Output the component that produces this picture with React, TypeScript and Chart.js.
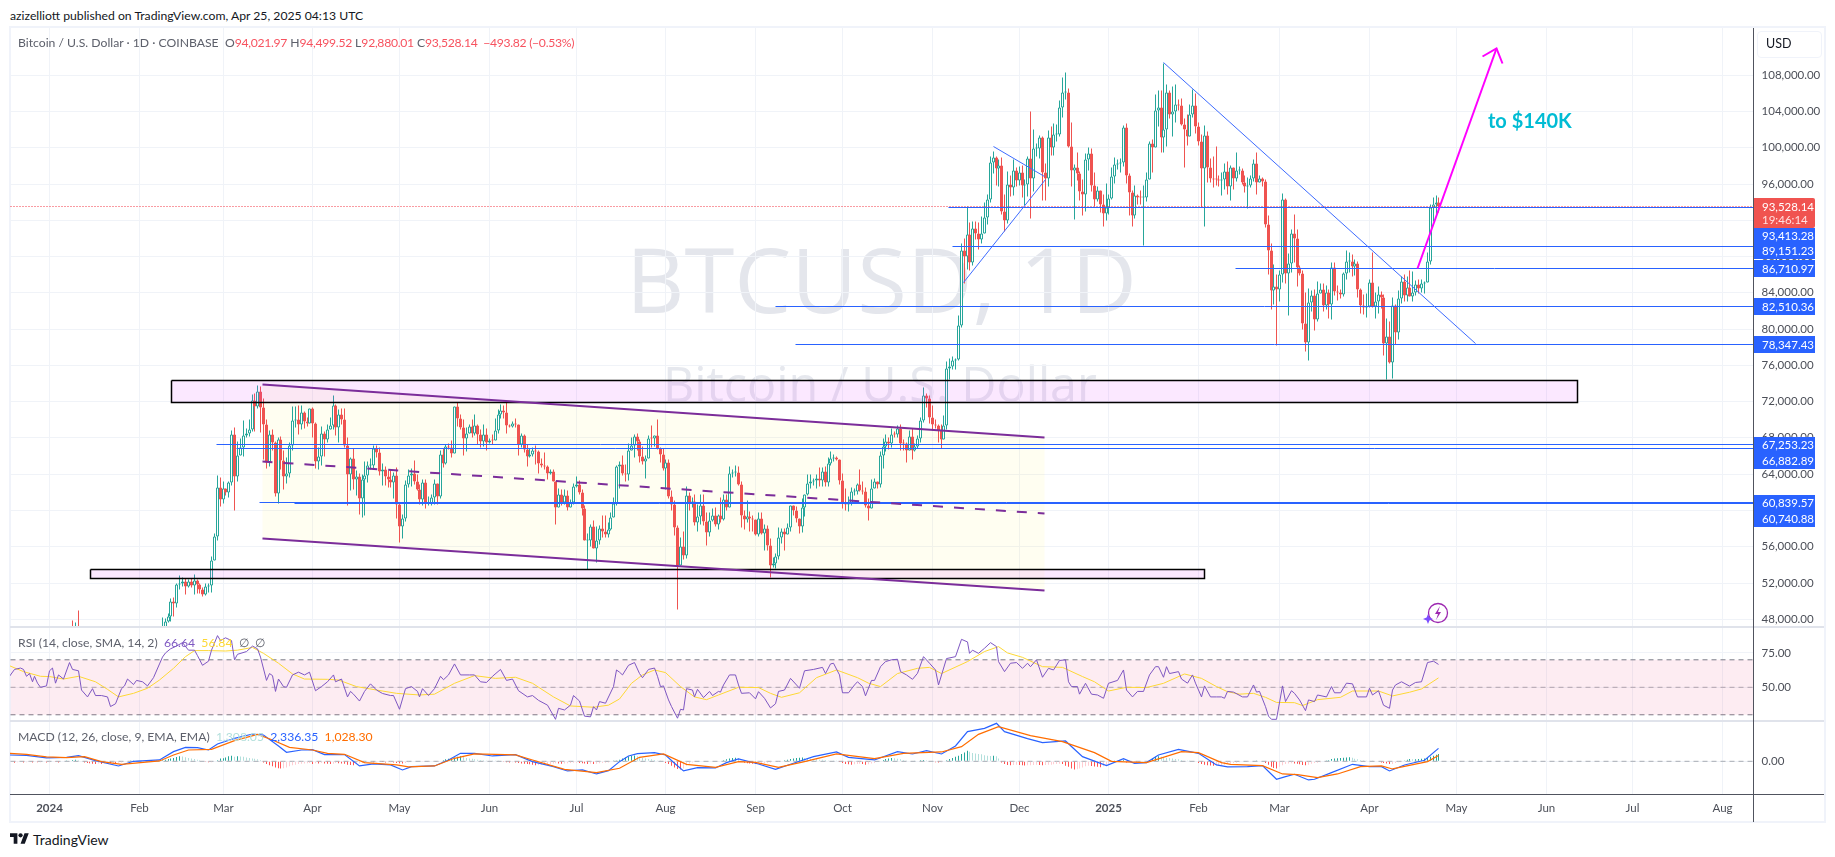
import { useEffect, useRef } from 'react'
import { Chart, registerables } from 'chart.js'

Chart.register(...registerables)

const uiFont = 'Lato, Roboto, sans-serif'
const axisText = '#4c4f58'
const gridColor = '#f0f3f8'
const up = '#26a69a'
const down = '#ef5350'
const lineBlue = '#2962ff'

// day 0 is Jan 1 2024
const monthStarts = [0, 31, 60, 91, 121, 152, 182, 213, 244, 274, 305, 335, 366, 397, 425, 456, 486, 517, 547, 578]
const monthLabels = ['2024', 'Feb', 'Mar', 'Apr', 'May', 'Jun', 'Jul', 'Aug', 'Sep', 'Oct', 'Nov', 'Dec', '2025', 'Feb', 'Mar', 'Apr', 'May', 'Jun', 'Jul', 'Aug']
const priceTicks = [108000, 104000, 100000, 96000, 92000, 88000, 84000, 80000, 76000, 72000, 68000, 64000, 60000, 56000, 52000, 48000]

const closes = [
  [44180, 44950, 42850, 44170, 44160, 43970, 43930, 46970, 46120, 46660, 46340, 42780, 42840, 41800, 42580, 43080, 42700, 41260, 41620, 41660, 41580, 39510, 39880, 40070, 39930, 41820, 42120, 42030, 43300, 42950, 42580],
  [43080, 43190, 42990, 42580, 42660, 43090, 44340, 45290, 47130, 47770, 48290, 49950, 49700, 51830, 51930, 52130, 51650, 52130, 51780, 52260, 51850, 51290, 50740, 51570, 51730, 54480, 57080, 62500, 61180],
  [62430, 62030, 63130, 68330, 63800, 66110, 66930, 68300, 68500, 68960, 72100, 71470, 73100, 71390, 69450, 65300, 68390, 67550, 61910, 67840, 65500, 63790, 64040, 67210, 69880, 69990, 69450, 70780, 69850, 69640, 71290],
  [69650, 65460, 65970, 68500, 67840, 68900, 69360, 71620, 69140, 70590, 70050, 67190, 63920, 65740, 63420, 63790, 61280, 63470, 63820, 64950, 64960, 66840, 66410, 64290, 64500, 63770, 63450, 63110, 63840, 60640],
  [58250, 59120, 62890, 63890, 64030, 63170, 62320, 61190, 63070, 60790, 60820, 61480, 62940, 61590, 66230, 65230, 67050, 66920, 66270, 71450, 70140, 69120, 67930, 68520, 69280, 68500, 69400, 68360, 67600, 68370, 67500],
  [67760, 67750, 68810, 70560, 71080, 70790, 69350, 69310, 69650, 69510, 67320, 68240, 66750, 66010, 66190, 66640, 66490, 65160, 64960, 64840, 64100, 64250, 63180, 60280, 61800, 60860, 61680, 60320, 60930, 62680],
  [62880, 62030, 60200, 56660, 56660, 58230, 55850, 56710, 58030, 57720, 57340, 57890, 59230, 60790, 64870, 65090, 64110, 63970, 66660, 67150, 68160, 67570, 65930, 65370, 65780, 67910, 67900, 68240, 66810, 66190, 64630],
  [65350, 61500, 60700, 58160, 53990, 56030, 55030, 61710, 60880, 60940, 58710, 59350, 60600, 58740, 57560, 58870, 59480, 58450, 59490, 59010, 61160, 60380, 64060, 64170, 64240, 62880, 59500, 59030, 59370, 59120, 58970],
  [57300, 59130, 57480, 57970, 56160, 53950, 54160, 54880, 57050, 57650, 57340, 58130, 60540, 60000, 59130, 58210, 60310, 61760, 62950, 63200, 63350, 63580, 63340, 64260, 63140, 65180, 65780, 65880, 65610, 63330],
  [60810, 60640, 60750, 62080, 62080, 62820, 62220, 62130, 60580, 60270, 62450, 63200, 62850, 66050, 67040, 67620, 67370, 68390, 68360, 69000, 67370, 67360, 66640, 68160, 66600, 67010, 67940, 69900, 72720, 72330, 70250],
  [69480, 69340, 68770, 67800, 69360, 75640, 75900, 76530, 76670, 80370, 88700, 88000, 90490, 87380, 91050, 90600, 89850, 90510, 92310, 94290, 98370, 98920, 97700, 98000, 93010, 91960, 95950, 95650, 97460, 96400],
  [97290, 95860, 95990, 98770, 96600, 99920, 99920, 101120, 97310, 96600, 101160, 100000, 101420, 101420, 104480, 106060, 106140, 100200, 97460, 97780, 97220, 95190, 94880, 98680, 99420, 95800, 94280, 95280, 93720, 92760, 93390],
  [94420, 96880, 98110, 98230, 98340, 102240, 96950, 95060, 92560, 94700, 94560, 94500, 94500, 96540, 100500, 99990, 104080, 104460, 101190, 102000, 106150, 103650, 103960, 104820, 104700, 102600, 102060, 101300, 103700, 104700, 102400],
  [100650, 97700, 101400, 97800, 96600, 96550, 96500, 96450, 96500, 97400, 95750, 97850, 96600, 97500, 97550, 96150, 95750, 95800, 96600, 98300, 96150, 96600, 96250, 91550, 88700, 84250, 84700, 84350],
  [86050, 94250, 86150, 87250, 90600, 90000, 86750, 86150, 80600, 78550, 82900, 83700, 81050, 83950, 84350, 82600, 84050, 82700, 86800, 84200, 84050, 83800, 86100, 87500, 87500, 86900, 87200, 84350, 82650, 82400, 82550],
  [85150, 82500, 83100, 83850, 83500, 78400, 79150, 76300, 82600, 79600, 83400, 85250, 83700, 84550, 83650, 84000, 84900, 84450, 85050, 85100, 87500, 93450, 93700, 94021.97, 93528.14],
]

const highs = [
  [44200, 45900, 45500, 44800, 44400, 44200, 44500, 47200, 47900, 47700, 49000, 46500, 43200, 43100, 43400, 43600, 43500, 42900, 42200, 41900, 41900, 41700, 40500, 40500, 40300, 42200, 42200, 42800, 43300, 43800, 43700],
  [43800, 43400, 43400, 43100, 43500, 43400, 44500, 45600, 48200, 48100, 48600, 50300, 50400, 52000, 52800, 52600, 52500, 52400, 52500, 52900, 52400, 52000, 51500, 51900, 52000, 54900, 57500, 63900, 63600],
  [63200, 62400, 63200, 68800, 69200, 67600, 67900, 69900, 69000, 70000, 72800, 72900, 73800, 73650, 72400, 70000, 68800, 68900, 67600, 68000, 68200, 66600, 65900, 67500, 71500, 71500, 71600, 71600, 70900, 70300, 71300],
  [71400, 69700, 66900, 69300, 68700, 69500, 70300, 72700, 71700, 71100, 71300, 71200, 68000, 65800, 66800, 64400, 64100, 64000, 65400, 65400, 65700, 67200, 67200, 67000, 65200, 64800, 64400, 64500, 64200, 64700],
  [60800, 59600, 63300, 64500, 64600, 65500, 64000, 62900, 63400, 63400, 61500, 61800, 63400, 63000, 66600, 66800, 67300, 67400, 67700, 71500, 71900, 70600, 70000, 69200, 69500, 70000, 70600, 69500, 68900, 69500, 69000],
  [67900, 68400, 70200, 71100, 71700, 71600, 71900, 69500, 69800, 70100, 69500, 68500, 68400, 67300, 66800, 66900, 67200, 66600, 65700, 66400, 65000, 64500, 64500, 62300, 62400, 62300, 62300, 62200, 61200, 63000],
  [63800, 63300, 62300, 60500, 57500, 58500, 58900, 58200, 58300, 59400, 59400, 58700, 59800, 61400, 65000, 65400, 66100, 65100, 67400, 68000, 68400, 68500, 67800, 67100, 66100, 68300, 69400, 68300, 70000, 67000, 66800],
  [65600, 65600, 62200, 61100, 58300, 57000, 57700, 62700, 62000, 61400, 61800, 60700, 61800, 61800, 59800, 59800, 60200, 60300, 59600, 61400, 61800, 61800, 64900, 64500, 65000, 64800, 63200, 60000, 61100, 59900, 59400],
  [59000, 59800, 59800, 58500, 58300, 56900, 54800, 55300, 58100, 58000, 58000, 58600, 60600, 60600, 60400, 59100, 61300, 61800, 64000, 64000, 63500, 64000, 64700, 64700, 64800, 65800, 66500, 66200, 66000, 65600],
  [64100, 62400, 61500, 62500, 62400, 63000, 64500, 63200, 62500, 61300, 63400, 63500, 63200, 66500, 67900, 68400, 68000, 69000, 68700, 69400, 69500, 67800, 67500, 68800, 69000, 67400, 68300, 70300, 73600, 72900, 72700],
  [71600, 70000, 69500, 69500, 70500, 76400, 76800, 77000, 76800, 81500, 89500, 90000, 93500, 91800, 91900, 91900, 91800, 92400, 94000, 94900, 99000, 99600, 99000, 98700, 98900, 94800, 97400, 97000, 98700, 97800],
  [97900, 98000, 96500, 99000, 104000, 102000, 100500, 101400, 101200, 98300, 101900, 102400, 102700, 102600, 105200, 107800, 108300, 106500, 102800, 98200, 99500, 97400, 96500, 99400, 100000, 99900, 97300, 95700, 95200, 94900, 96100],
  [94900, 97800, 98900, 98700, 98800, 102500, 102700, 97200, 95300, 95800, 94900, 95300, 95800, 97300, 100700, 100900, 105900, 106300, 106300, 109300, 107000, 106300, 106800, 107000, 105300, 105400, 103200, 103700, 104800, 106400, 106000],
  [102800, 101500, 102500, 101800, 98800, 99000, 100100, 96900, 97300, 98300, 98500, 98100, 97300, 99500, 97900, 97700, 97000, 96700, 97000, 98700, 99500, 96900, 96700, 96500, 92500, 89400, 87100, 86000],
  [86500, 95000, 94400, 88300, 91000, 92700, 91000, 87000, 86500, 84000, 84500, 84300, 84400, 85300, 85000, 85000, 84800, 84400, 87400, 87400, 84800, 84400, 86300, 88700, 88500, 88200, 87700, 87500, 84500, 83800, 83900],
  [85500, 88500, 84000, 84700, 84200, 83800, 81200, 80900, 83500, 82700, 84300, 85800, 86000, 85800, 86500, 86400, 85400, 85500, 85500, 85300, 88500, 93800, 94500, 94700, 94499.52],
]

const lows = [
  [42300, 44200, 40800, 42650, 43400, 43400, 43600, 43200, 45300, 44300, 45600, 41700, 42500, 41700, 41800, 42100, 42200, 40700, 40300, 41500, 41500, 39400, 38500, 39500, 39500, 39800, 41400, 41600, 41900, 42700, 42300],
  [42500, 42600, 42900, 42200, 42500, 42600, 42800, 44300, 45300, 46800, 47700, 47800, 48300, 49300, 51300, 51600, 50700, 51500, 51500, 50700, 50900, 50900, 50500, 50600, 51000, 51000, 54500, 56700, 60400],
  [60800, 61700, 61400, 62800, 60000, 63200, 66200, 66000, 68000, 68200, 68700, 68700, 71300, 68600, 65600, 64600, 64900, 66600, 61600, 60800, 64500, 62300, 63000, 63600, 66600, 69200, 68400, 68900, 69000, 69300, 69600],
  [68100, 64600, 64500, 65000, 66000, 67500, 69000, 68900, 68300, 67500, 69500, 66900, 60500, 62200, 62300, 61700, 59600, 59200, 59500, 63100, 64500, 64500, 65800, 63900, 62800, 62800, 62500, 62500, 61300, 59100],
  [56500, 56900, 58800, 62500, 62600, 62900, 62200, 60700, 60600, 60200, 60500, 60600, 60700, 60700, 61300, 64700, 65100, 66700, 65900, 66300, 69300, 68900, 66100, 66500, 68500, 68000, 68300, 67300, 67000, 67100, 66600],
  [67400, 67300, 67700, 68500, 70200, 70100, 68500, 69200, 69200, 69200, 66100, 66900, 66400, 64900, 65900, 66000, 65100, 64100, 64700, 64500, 63400, 64000, 63200, 58500, 60700, 60600, 60700, 60000, 60500, 60700],
  [62500, 61800, 59500, 56800, 53500, 56000, 55800, 54300, 56300, 57000, 57000, 57000, 57800, 59500, 60600, 62400, 63900, 63200, 63300, 66700, 65800, 66600, 65300, 65100, 63500, 65700, 66900, 67100, 66700, 65300, 64400],
  [62300, 61300, 60000, 57200, 49137, 53900, 54600, 54700, 60000, 60300, 58400, 57700, 58500, 58400, 56100, 57100, 58800, 58200, 57900, 58700, 58900, 60000, 60300, 63600, 63700, 62800, 58100, 57900, 58700, 57700, 57700],
  [57200, 57100, 57400, 55600, 55600, 52600, 53700, 53600, 54600, 56400, 55600, 57300, 57700, 59500, 58700, 57500, 57600, 59300, 61700, 62400, 62800, 62400, 62700, 62700, 62700, 62700, 65000, 65400, 65500, 62900],
  [60200, 60000, 59900, 60500, 61700, 61800, 62100, 61800, 60300, 58900, 60200, 62500, 62400, 62500, 64600, 66500, 66700, 67000, 68100, 68100, 66600, 66600, 65300, 66600, 65600, 66500, 66800, 67500, 69700, 71400, 69600],
  [68800, 69000, 67500, 66800, 67800, 68900, 74400, 75500, 75600, 76500, 80200, 85000, 86600, 86500, 87000, 89900, 88800, 89400, 90800, 91500, 94000, 97200, 95800, 95700, 92600, 90800, 91700, 94600, 94700, 95700],
  [95800, 94500, 93600, 94600, 92230, 95200, 99000, 98800, 94200, 94200, 95700, 99200, 99200, 100700, 101200, 103300, 105300, 100000, 95700, 92100, 96400, 94200, 92500, 93000, 97500, 95200, 93500, 94100, 92900, 91300, 92000],
  [92600, 94300, 96100, 97600, 97300, 97900, 96100, 92500, 91300, 92200, 93800, 93700, 89200, 94100, 96500, 97300, 100300, 102300, 99500, 99500, 100100, 103200, 101200, 102800, 104100, 102500, 97800, 100300, 101300, 103300, 101600],
  [100300, 93400, 91300, 96200, 96200, 95600, 95900, 95700, 94700, 95400, 94900, 94200, 95400, 96300, 97100, 96000, 95100, 93300, 95600, 96300, 94800, 96300, 95700, 91200, 86000, 82200, 82700, 78200],
  [83000, 85100, 85000, 81500, 86300, 87400, 84700, 85900, 80000, 77500, 76600, 82000, 79900, 80800, 83900, 81900, 82200, 81200, 81100, 83700, 83200, 83400, 83600, 85500, 86300, 85800, 85900, 83500, 81700, 81600, 81300],
  [82400, 82400, 81200, 81700, 82300, 77100, 74434, 76200, 74600, 78300, 78900, 82800, 83000, 83100, 83600, 83100, 83700, 83900, 84000, 83900, 85100, 87100, 91900, 92500, 92880.01],
]

// [day, value]
const rsiLine = [
  [-14, 57], [-12, 63], [-10, 64], [-9, 63], [-8, 58], [-7, 60], [-6, 54], [-5, 58], [-4, 53], [-3, 50], [-1, 51], [0, 62], [1, 64], [2, 53], [3, 59], [5, 56], [7, 68], [8, 63], [10, 62], [11, 48],
  [13, 43], [15, 49], [16, 44], [18, 44], [20, 43], [21, 36], [23, 38], [25, 49], [26, 51], [27, 56], [29, 52], [30, 55], [32, 54], [34, 51], [36, 57], [38, 67], [39, 72], [40, 75], [42, 78], [44, 80],
  [46, 82.5], [48, 77], [50, 77], [51, 73], [53, 66], [55, 69], [56, 77], [58, 87.6], [59, 84], [61, 86], [63, 84], [64, 70], [65, 74], [68, 76], [70, 80], [72, 78], [73, 72], [75, 55], [76, 60], [77, 58.5],
  [78, 47], [79, 56], [81, 50.5], [82, 50], [84, 59], [86, 61], [88, 59], [90, 61], [92, 47.5], [94, 50.5], [96, 54], [98, 59], [99, 54], [101, 56], [103, 43], [104, 47], [105, 45], [107, 40], [109, 47], [111, 52.5],
  [113, 48], [115, 45.5], [118, 44], [119, 44], [121, 34], [123, 49], [125, 50.5], [127, 47], [128, 43], [129, 49], [131, 44], [133, 49], [135, 58], [136, 55.5], [138, 59], [140, 67], [142, 59], [145, 59], [147, 59], [149, 54],
  [151, 53.5], [153, 58], [156, 63], [158, 55], [160, 56], [162, 47.5], [165, 43], [167, 44], [169, 40.5], [172, 37], [175, 26.7], [176, 34.7], [178, 33.5], [180, 37], [181, 44], [183, 40], [185, 29], [187, 28.5], [188, 35.9], [189, 33.5],
  [190, 39.6], [192, 38.4], [195, 50.5], [196, 62.6], [197, 61], [198, 59], [200, 66], [202, 68], [204, 60], [205, 57], [207, 63], [209, 64], [210, 58], [211, 50.5], [212, 51], [214, 40.8], [215, 36], [217, 27.5], [218, 34], [219, 33.5],
  [220, 49], [222, 48], [223, 43], [224, 48.5], [226, 42.5], [228, 47], [229, 44], [231, 47], [232, 46.5], [233, 51.7], [235, 59], [237, 59], [238, 51.7], [239, 45.6], [242, 46], [244, 41.6], [245, 46.8], [247, 42], [249, 35], [251, 38],
  [252, 47], [254, 48], [256, 56.5], [259, 49.3], [261, 62], [264, 63], [267, 64.5], [268, 60], [270, 67], [271, 67.5], [273, 59], [274, 46], [276, 46], [278, 51.7], [279, 54], [281, 50.5], [282, 43.8], [284, 55], [285, 55], [287, 65],
  [289, 68.7], [291, 70], [293, 70.4], [294, 61.4], [296, 59], [298, 55.8], [300, 60.2], [302, 72.3], [304, 67.5], [306, 62.6], [307, 51.7], [310, 70.9], [313, 72.3], [315, 84.9], [317, 83], [318, 74.7], [319, 77], [321, 74.7], [323, 78.4], [325, 82.5],
  [327, 79.6], [328, 68.7], [330, 61.4], [332, 67.5], [334, 68], [336, 63.8], [338, 67.5], [339, 65], [341, 70], [343, 57.3], [345, 63.8], [347, 62.6], [349, 69.5], [351, 70], [352, 54], [353, 50.5], [355, 50.5], [356, 45], [358, 52.9], [360, 45],
  [362, 44.4], [364, 42], [366, 52.9], [369, 55], [371, 62.6], [372, 48], [374, 43], [376, 47], [378, 47], [380, 59], [382, 65], [383, 65], [385, 57.3], [386, 65], [387, 60], [390, 61.4], [391, 56], [393, 53], [395, 59], [396, 53],
  [398, 43], [399, 51], [401, 43], [403, 43], [405, 43], [406, 42], [407, 47], [409, 46.5], [412, 43], [414, 43], [416, 51.7], [417, 46.5], [418, 47], [420, 35.9], [421, 29], [422, 26.7], [424, 26.7], [426, 51], [427, 39.6], [429, 47.5],
  [430, 45.6], [432, 40.8], [434, 33], [435, 40.8], [437, 39.6], [438, 44.4], [441, 43], [443, 50.5], [444, 46], [446, 46], [448, 53], [450, 52.5], [452, 43], [455, 43], [456, 49.3], [457, 44.4], [459, 47.5], [461, 37], [463, 34.7], [464, 48],
  [465, 51.7], [467, 54], [470, 50.9], [472, 53.5], [474, 54], [476, 68], [478, 69], [480, 66.64],
]

const rsiAverage = [
  [-14, 66], [-9, 61.4], [-3, 58], [0, 57.8], [5, 56], [10, 58], [16, 54], [20, 48.5], [24, 43], [29, 45.6], [34, 49.3], [38, 55.3], [43, 63.8], [47, 72.3], [50, 76.7], [55, 76.7], [61, 76.4], [65, 77], [70, 79], [74, 74.7],
  [79, 67.5], [84, 59.7], [88, 56], [96, 55.8], [100, 55.3], [106, 50.5], [113, 48], [120, 45.6], [128, 44.4], [133, 45], [140, 52.9], [147, 58.5], [154, 56.5], [161, 57.3], [167, 52.9], [174, 43], [180, 36.4], [188, 35.5], [193, 37], [197, 41.5],
  [201, 52.9], [205, 59], [209, 62.6], [213, 60.7], [218, 50.5], [223, 43], [227, 41], [231, 44.4], [238, 50], [245, 49.8], [249, 45.6], [253, 42.7], [259, 46], [265, 57], [272, 62.6], [279, 57], [283, 53], [287, 50.5], [293, 60], [300, 63.8],
  [304, 64.5], [308, 60], [317, 68.7], [323, 76], [328, 79.6], [331, 75], [336, 71.8], [343, 65], [350, 64.5], [357, 57.8], [361, 54], [366, 47.3], [372, 50], [379, 49.8], [385, 52.9], [392, 59.7], [398, 56.5], [403, 50.5], [407, 46.8], [411, 45],
  [416, 45.6], [420, 42.7], [424, 39], [430, 38.8], [433, 36.7], [438, 41], [446, 42.7], [450, 47.3], [459, 47.3], [464, 43.7], [470, 46.4], [474, 48.8], [480, 56.84],
]

const macdLine = [
  [-14, 1140], [-8, 1080], [-1, 600], [6, 720], [10, 1020], [16, 120], [24, -840], [29, 0], [38, 240], [43, 1740], [47, 2520], [51, 2460], [55, 2040], [58, 3120], [64, 4140], [70, 4920], [74, 4740], [79, 2760], [82, 1620], [87, 2040],
  [91, 2100], [95, 1200], [102, 1200], [107, -840], [112, -480], [118, -660], [122, -1560], [125, -960], [133, -840], [138, 240], [142, 1440], [147, 1440], [153, 960], [161, 1200], [167, -60], [174, -960], [179, -1740], [184, -1560], [189, -2280], [193, -1680],
  [197, -60], [200, 960], [203, 1380], [209, 1560], [213, 1140], [216, -360], [219, -1740], [224, -1140], [230, -1200], [234, -240], [238, 420], [245, -480], [251, -1440], [256, -540], [264, 840], [272, 1680], [276, 720], [285, 240], [293, 1740], [298, 1320],
  [303, 1920], [308, 1320], [313, 2760], [317, 5340], [323, 5940], [327, 6840], [330, 5340], [338, 4080], [343, 3360], [351, 3660], [357, 840], [365, -780], [371, 480], [375, -360], [379, -240], [383, 1140], [390, 2160], [397, 1440], [403, -660], [407, -1020],
  [414, -960], [419, -780], [424, -3240], [427, -2760], [430, -2340], [435, -3360], [437, -3240], [443, -2040], [450, -540], [456, -960], [460, -960], [463, -1740], [468, -660], [475, 180], [480, 2336.35],
]

const macdSignal = [
  [-14, 1440], [-8, 1260], [-1, 780], [6, 660], [12, 840], [18, -60], [25, -540], [38, 60], [43, 1140], [48, 2040], [56, 2160], [64, 3720], [72, 4860], [77, 3840], [83, 2520], [91, 2040], [96, 1440], [102, 1260], [109, -240], [120, -660],
  [124, -1020], [133, -840], [140, 540], [147, 1320], [161, 1140], [167, 240], [178, -1440], [189, -2040], [197, -1260], [204, 720], [212, 1320], [220, -540], [230, -1080], [238, -60], [244, -180], [252, -1080], [261, -60], [272, 1320], [285, 480], [295, 1440],
  [308, 1680], [315, 2640], [321, 4860], [328, 6240], [339, 4620], [350, 3540], [361, 1560], [367, 0], [379, -240], [391, 1740], [397, 1560], [405, -240], [408, -540], [419, -780], [426, -2280], [431, -2400], [438, -2940], [445, -2280], [453, -960], [460, -840],
  [464, -1380], [476, -60], [480, 1028.3],
]

// histogram per month, the first row holds the last 14 days of Dec 2023
const macdHistogram = [
  [-200, -100, -240, -150, -100, -200, -150, -120, -200, -100, -180, -150, -100, -200],
  [-150, -100, -120, -200, -80, -100, 60, 120, 220, 260, 200, -100, -200, -300, -350, -420, -480, -400, -500, -380, -300, -350, -300, -420, -260, -200, -100, -80, 40, 60, 80],
  [100, 120, 100, 150, 180, 120, 150, 100, 200, 300, 420, 500, 600, 780, 900, 880, 750, 600, 520, 400, 300, 180, -60, -120, -180, -150, -60, 200, 500],
  [550, 700, 900, 1000, 800, 900, 850, 800, 700, 600, 500, 450, 350, 250, -200, -500, -700, -900, -1100, -1250, -1300, -1250, -1100, -900, -700, -600, -500, -450, -400, -350, -300],
  [-500, -350, -400, -300, -400, -450, -500, -420, -300, -350, -400, -450, -600, -650, -700, -500, -400, -300, -200, -150, -100, -150, -150, -100, -120, -200, -180, -150, -200, -300],
  [-350, -400, -300, -150, -60, -80, -100, -60, -40, -60, -50, -60, -40, -40, 100, 200, 350, 450, 550, 700, 800, 900, 850, 600, 500, 450, 350, 300, 250, 200, 150],
  [80, 60, 50, 40, -100, -120, -150, -200, -180, -220, -300, -400, -450, -500, -550, -600, -700, -650, -600, -550, -500, -480, -400, -350, -400, -420, -380, -350, -300, -280],
  [-250, -300, -350, -400, -500, -420, -500, -450, -350, -300, -250, -200, -100, 40, 150, 300, 500, 700, 850, 1000, 1050, 900, 700, 600, 500, 400, 350, 250, 150, 50, -100],
  [-300, -500, -800, -1100, -1400, -1500, -1300, -800, -400, -200, -120, -100, -80, -60, -80, -100, -60, -100, -40, 100, 200, 350, 500, 600, 650, 550, -100, -250, -350, -400, -450],
  [-500, -480, -420, -300, -250, -200, -100, -60, -40, 100, 200, 300, 400, 500, 600, 650, 700, 600, 520, 450, 400, 350, 300, 260, 220, 150, 100, 60, 40, -40],
  [-300, -500, -550, -600, -550, -500, -450, -480, -600, -550, -400, -300, -100, 100, 250, 400, 500, 600, 550, 450, 350, 250, 150, 100, 80, 60, 120, 200, 250, 200, 100],
  [-100, -180, -200, -150, -60, 200, 400, 600, 800, 1000, 1300, 1600, 1900, 1700, 1500, 1400, 1300, 1250, 1100, 1000, 950, 1000, 900, 500, -200, -500, -650, -700, -650, -600],
  [-650, -700, -750, -700, -700, -650, -600, -650, -700, -650, -600, -600, -550, -500, -450, -500, -800, -1000, -1300, -1500, -1450, -1300, -1100, -900, -800, -850, -950, -1000, -1050, -900, -800],
  [-500, -100, 60, 100, 150, 300, -200, -60, -100, -120, -120, -100, -100, -80, 200, 500, 800, 900, 800, 700, 650, 600, 500, 400, 350, 250, 120, 50, 40, -60, -100],
  [-300, -500, -600, -700, -750, -780, -720, -680, -650, -600, -500, -400, -300, -250, -180, -100, -60, -50, 100, 100, 150, 80, -60, -300, -600, -1000, -1200, -1300],
  [-1000, -700, -500, -400, -350, -400, -450, -550, -650, -720, -600, -450, -300, -250, -150, 100, 150, 200, 400, 500, 550, 600, 650, 700, 720, 650, 450, 350, 250, 200, 150],
  [100, 60, -60, -100, -200, -300, -400, -500, -480, -300, -150, -60, 150, 300, 400, 350, 350, 420, 450, 500, 600, 800, 1000, 1200, 1308.05],
]

// drawings on the price pane, [day, price]
const upperBox = [[42.1, 74362], [527.9, 74362], [527.9, 71935], [42.1, 71935], [42.1, 74362]]
const lowerBox = [[14.2, 53517], [399, 53517], [399, 52524], [14.2, 52524], [14.2, 53517]]
const channelTop = [[73.6, 73877], [343.9, 68075]]
const channelMiddle = [[73.6, 65384], [343.9, 59693]]
const channelBottom = [[73.6, 56892], [343.9, 51124]]
const wedgeUpper = [[326, 100125], [343.9, 96816]]
const wedgeLower = [[315.9, 85126], [344.2, 96563]]
const longTrend = [[384.9, 109467], [492.8, 78442]]
const arrowShaft = [[472.7, 86714], [499.9, 110901]]
const arrowHead = [[495.2, 110051], [499.9, 110901], [502.1, 109323]]
const lastPrice = 93528.14
const levelPrices = [93413.28, 89151.23, 86710.97, 82510.36, 78347.43, 67253.23, 66882.89, 60839.57, 60740.88]
const levelStarts = [310.7, 311.8, 409.9, 251, 257.9, 57.9, 64.8, 72.7, 84.8]

const dayMin = -13.6
const dayMax = 588.7
const priceMin = 47263
const priceMax = 113217

const toPoints = (rows: number[][]) => rows.map(([x, y]) => ({ x, y }))

const line = (rows: number[][], color: string, width: number, order: number, extra: object = {}) => ({
  type: 'line',
  data: toPoints(rows),
  borderColor: color,
  borderWidth: width,
  pointRadius: 0,
  fill: false,
  tension: 0,
  order,
  ...extra,
})

const snapScale = (scale: any) => {
  if (scale.__snapped) return
  const original = scale.getPixelForValue.bind(scale)
  scale.getPixelForValue = (v: number, i?: number) => Math.floor(original(v, i)) + 0.5
  scale.__snapped = true
}

// daily bars are snapped to whole pixels so wicks stay crisp
const snapX = {
  id: 'snapX',
  beforeDatasetsUpdate(chart: any) {
    snapScale(chart.scales.x)
  },
}

const snapXY = {
  id: 'snapXY',
  beforeDatasetsUpdate(chart: any) {
    snapScale(chart.scales.x)
    snapScale(chart.scales.y)
  },
}

const hiddenX = {
  type: 'linear',
  min: dayMin,
  max: dayMax,
  offset: false,
  afterBuildTicks: (scale: any) => {
    scale.ticks = monthStarts.map((value) => ({ value }))
  },
  ticks: { display: false, autoSkip: false },
  grid: { color: gridColor, drawTicks: false, offset: false },
  border: { display: false },
}

const yAxis = (min: number, max: number, values: number[], format: (v: number) => string) => ({
  type: 'linear',
  position: 'right',
  min,
  max,
  afterFit: (scale: any) => {
    scale.width = 72.4
    scale.paddingTop = 0
    scale.paddingBottom = 0
  },
  afterBuildTicks: (scale: any) => {
    scale.ticks = values.map((value) => ({ value }))
  },
  ticks: {
    padding: 8,
    color: axisText,
    font: { family: uiFont, size: 11.5 },
    callback: (v: number) => format(v),
  },
  grid: { color: gridColor, drawTicks: false },
  border: { display: false },
})

const twoDecimals = (v: number) => v.toLocaleString('en-US', { minimumFractionDigits: 2, maximumFractionDigits: 2 })

const baseOptions = {
  responsive: false,
  animation: false,
  events: [],
  layout: { padding: 0 },
  plugins: { legend: { display: false }, tooltip: { enabled: false } },
}

function candleDatasets() {
  const wicks: any[] = []
  const bodies: any[] = []
  const wickColors: string[] = []
  const fills: string[] = []
  const borders: string[] = []
  let previous = closes[0][0]
  closes.forEach((month, m) => {
    month.forEach((close, i) => {
      const x = monthStarts[m] + i
      const open = previous
      const rising = close >= open
      previous = close
      const top = Math.max(highs[m][i] ?? close, open, close)
      const bottom = Math.min(lows[m][i] ?? close, open, close)
      // candles wholly under the pane are left out, the axis would clamp them
      if (top < priceMin) return
      wicks.push({ x, y: [bottom, top] })
      wickColors.push(rising ? up : down)
      if (Math.max(open, close) < priceMin) return
      bodies.push({ x, y: [open, close] })
      fills.push(rising ? '#ffffff' : down)
      borders.push(rising ? up : down)
    })
  })
  const shared = { type: 'bar', grouped: false, barPercentage: 2, categoryPercentage: 1, inflateAmount: 0, borderSkipped: false }
  return [
    { ...shared, data: wicks, backgroundColor: wickColors, maxBarThickness: 1, order: 60 },
    { ...shared, data: bodies, backgroundColor: fills, borderColor: borders, borderWidth: 1, maxBarThickness: 3, minBarLength: 1, order: 59 },
  ]
}

function histogramDataset() {
  const data: any[] = []
  const colors: string[] = []
  let day = -14
  let before = 0
  macdHistogram.flat().forEach((value) => {
    data.push({ x: day, y: [0, value] })
    const rising = value >= before
    colors.push(value >= 0 ? (rising ? '#26a69a' : '#b2dfdb') : rising ? '#ffcdd2' : '#ff5252')
    before = value
    day += 1
  })
  return { type: 'bar', grouped: false, barPercentage: 2, categoryPercentage: 1, inflateAmount: 0, data, backgroundColor: colors, maxBarThickness: 1, order: 10 }
}

function priceConfig() {
  const levels = levelPrices.map((price, i) =>
    line([[levelStarts[i], price], [dayMax, price]], lineBlue, 1, 20),
  )
  return {
    type: 'line',
    data: {
      datasets: [
        line([...channelTop, ...channelBottom.slice().reverse(), channelTop[0]], 'rgba(0,0,0,0)', 0, 90, {
          fill: 'shape',
          backgroundColor: 'rgba(255,235,59,0.07)',
        }),
        line(upperBox, '#000000', 1.5, 40, { fill: 'shape', backgroundColor: 'rgba(224,64,251,0.12)' }),
        line(lowerBox, '#000000', 1.5, 40, { fill: 'shape', backgroundColor: 'rgba(224,64,251,0.12)' }),
        ...candleDatasets(),
        ...levels,
        line(channelTop, '#7b2d9a', 2, 15),
        line(channelBottom, '#7b2d9a', 2, 15),
        line(channelMiddle, '#7b2d9a', 2, 15, { borderDash: [10, 11] }),
        line(wedgeUpper, '#3d6bff', 1, 14),
        line(wedgeLower, '#3d6bff', 1, 14),
        line(longTrend, '#3d6bff', 1, 14),
        line([[dayMin, lastPrice], [dayMax, lastPrice]], '#f23645', 1, 12, { borderDash: [1, 2] }),
        line(arrowShaft, '#ff00ff', 2, 5),
        line(arrowHead, '#ff00ff', 2, 5),
      ],
    },
    options: {
      ...baseOptions,
      scales: {
        x: hiddenX,
        y: yAxis(priceMin, priceMax, priceTicks, twoDecimals),
      },
    },
    plugins: [snapXY],
  }
}

function rsiConfig() {
  const dash = { borderDash: [5, 4] }
  return {
    type: 'line',
    data: {
      datasets: [
        line([[dayMin, 70], [dayMax, 70]], '#787b86', 1, 30, { ...dash, fill: '+1', backgroundColor: 'rgba(240,70,130,0.1)' }),
        line([[dayMin, 30], [dayMax, 30]], '#787b86', 1, 30, dash),
        line([[dayMin, 50], [dayMax, 50]], 'rgba(120,123,134,0.6)', 1, 30, dash),
        line(rsiAverage, '#fdd835', 1, 6),
        line(rsiLine, '#7e57c2', 1, 5),
      ],
    },
    options: {
      ...baseOptions,
      scales: {
        x: hiddenX,
        y: yAxis(26.2, 94.6, [75, 50], twoDecimals),
      },
    },
    plugins: [snapX],
  }
}

function macdConfig() {
  return {
    type: 'line',
    data: {
      datasets: [
        line([[dayMin, 0], [dayMax, 0]], 'rgba(120,123,134,0.6)', 1, 30, { borderDash: [5, 4] }),
        histogramDataset(),
        line(macdLine, '#2962ff', 1.2, 6),
        line(macdSignal, '#ff6d00', 1.2, 5),
      ],
    },
    options: {
      ...baseOptions,
      scales: {
        x: {
          ...hiddenX,
          afterFit: (scale: any) => {
            scale.height = 28
            scale.paddingLeft = 0
            scale.paddingRight = 0
          },
          ticks: {
            display: true,
            autoSkip: false,
            maxRotation: 0,
            padding: 7,
            color: axisText,
            font: (ctx: any) => {
              const label = monthLabels[ctx.index]
              return { family: uiFont, size: 11.5, weight: label === '2024' || label === '2025' ? 'bold' : 'normal' }
            },
            callback: (_v: number, i: number) => monthLabels[i],
          },
        },
        y: yAxis(-5892, 7441, [0], twoDecimals),
      },
    },
    plugins: [snapX],
  }
}

function ChartCanvas({ top, height, build }: { top: number; height: number; build: () => any }) {
  const ref = useRef<HTMLCanvasElement>(null)
  useEffect(() => {
    if (!ref.current) return
    const chart = new Chart(ref.current, build())
    return () => chart.destroy()
  }, [build])
  return <canvas ref={ref} width={1816} height={height} style={{ position: 'absolute', left: 10, top, zIndex: 2 }} />
}

const box = (left: number, top: number, width: number, height: number, background: string, zIndex = 3) => (
  <div style={{ position: 'absolute', left, top, width, height, background, zIndex }} />
)

function Label({ left, y, children, style }: { left: number; y: number; children: any; style?: object }) {
  return (
    <div
      style={{
        position: 'absolute',
        left,
        top: y,
        transform: 'translateY(-50%)',
        whiteSpace: 'pre',
        fontFamily: uiFont,
        zIndex: 4,
        ...style,
      }}
    >
      {children}
    </div>
  )
}

const priceTags = [
  { text: '93,413.28', top: 228, height: 15 },
  { text: '89,151.23', top: 243, height: 15.5 },
  { text: '86,710.97', top: 260, height: 17 },
  { text: '82,510.36', top: 298, height: 17 },
  { text: '78,347.43', top: 336, height: 17 },
  { text: '67,253.23', top: 437, height: 16 },
  { text: '66,882.89', top: 453, height: 16 },
  { text: '60,839.57', top: 495, height: 16 },
  { text: '60,740.88', top: 511, height: 16 },
]

const quoteStyle = { color: '#f7525f', letterSpacing: -0.3 }

export default function App() {
  return (
    <div style={{ position: 'absolute', left: 0, top: 0, width: 1835, height: 857, overflow: 'hidden', background: '#fff' }}>
      {box(9, 26, 1817, 2, '#f0f3fa', 1)}
      {box(9, 26, 2, 796, '#f0f3fa', 1)}
      {box(1824, 26, 2, 796, '#f0f3fa', 1)}
      {box(9, 821, 1817, 2, '#f0f3fa', 1)}

      <Label left={10} y={15} style={{ fontSize: 12.2, color: '#131722' }}>
        azizelliott published on TradingView.com, Apr 25, 2025 04:13 UTC
      </Label>

      <div style={{ position: 'absolute', left: 626, top: 228, fontFamily: '"Open Sans", sans-serif', fontSize: 90.5, lineHeight: '100px', color: '#e4e6ec', zIndex: 1, whiteSpace: 'pre' }}>
        BTCUSD, 1D
      </div>
      <div style={{ position: 'absolute', left: 663, top: 356, fontFamily: '"Open Sans", sans-serif', fontSize: 48.5, lineHeight: '54px', color: '#e6e8ee', zIndex: 1, whiteSpace: 'pre' }}>
        Bitcoin / U.S. Dollar
      </div>

      <ChartCanvas top={28} height={598} build={priceConfig} />
      <ChartCanvas top={626} height={94} build={rsiConfig} />
      <ChartCanvas top={720} height={102} build={macdConfig} />

      {box(10, 626, 1814, 2, '#e0e3eb')}
      {box(10, 720, 1814, 2, '#e0e3eb')}
      {box(10, 794, 1814, 1, '#50535e')}
      {box(1753, 28, 1, 794, '#50535e')}

      <Label left={18} y={41.5} style={{ fontSize: 12.2, color: '#5d606b' }}>
        {'Bitcoin / U.S. Dollar · 1D · COINBASE  O'}
        <span style={quoteStyle}>94,021.97</span>
        {' H'}
        <span style={quoteStyle}>94,499.52</span>
        {' L'}
        <span style={quoteStyle}>92,880.01</span>
        {' C'}
        <span style={quoteStyle}>93,528.14</span>
        <span style={quoteStyle}>{'  −493.82 (−0.53%)'}</span>
      </Label>

      <Label left={18} y={641.5} style={{ fontSize: 12.2, color: '#5d606b' }}>
        {'RSI (14, close, SMA, 14, 2)  '}
        <span style={{ color: '#7e57c2' }}>66.64</span>
        {'  '}
        <span style={{ color: '#fdd835' }}>56.84</span>
        {'  ∅  ∅'}
      </Label>

      <Label left={18} y={736} style={{ fontSize: 12.2, color: '#5d606b' }}>
        {'MACD (12, 26, close, 9, EMA, EMA)  '}
        <span style={{ color: '#b2dfdb' }}>1,308.05</span>
        {'  '}
        <span style={{ color: '#2962ff' }}>2,336.35</span>
        {'  '}
        <span style={{ color: '#ff6d00' }}>1,028.30</span>
      </Label>

      <Label left={1488} y={120} style={{ fontSize: 20, fontWeight: 700, color: '#00bcd4' }}>
        to $140K
      </Label>

      <div style={{ position: 'absolute', left: 1757, top: 31, width: 63, height: 25, border: '1px solid #f0f3fa', borderRadius: 4, background: '#fff', zIndex: 4 }} />
      <Label left={1766} y={43} style={{ fontSize: 12.5, color: '#131722', zIndex: 5 }}>
        USD
      </Label>

      <div style={{ position: 'absolute', left: 1754, top: 198, width: 61, height: 30, background: '#f05350', borderRadius: '0 2px 2px 0', zIndex: 4 }} />
      <Label left={1762} y={206} style={{ fontSize: 11.5, color: '#fff', zIndex: 5 }}>
        93,528.14
      </Label>
      <Label left={1762} y={219} style={{ fontSize: 11.5, color: '#ffe0e0', zIndex: 5 }}>
        19:46:14
      </Label>

      {priceTags.map((t) => (
        <div
          key={t.text}
          style={{
            position: 'absolute',
            left: 1754,
            top: t.top,
            width: 61,
            height: t.height,
            lineHeight: `${t.height}px`,
            background: lineBlue,
            color: '#fff',
            fontFamily: uiFont,
            fontSize: 11.5,
            paddingLeft: 8,
            boxSizing: 'border-box',
            zIndex: 4,
          }}
        >
          {t.text}
        </div>
      ))}

      <svg width={26} height={24} viewBox="0 0 26 24" style={{ position: 'absolute', left: 1423, top: 602, zIndex: 4 }}>
        <circle cx={15} cy={11} r={9.5} fill="none" stroke="#9c27b0" strokeWidth={1.3} />
        <path d="M17 4l-5 8h3l-2 6 5-8h-3z" fill="#9c27b0" />
        <path d="M5 12l1.4 3.6L10 17l-3.6 1.4L5 22l-1.4-3.6L0 17l3.6-1.4z" fill="#7c4dff" />
      </svg>

      <svg width={19} height={11} viewBox="0 0 36 20" style={{ position: 'absolute', left: 10, top: 833, zIndex: 4 }}>
        <path d="M14 20H7V7H0V0h14zM28 20h-8l7.5-20h8z" fill="#131722" />
        <circle cx={20} cy={4} r={4} fill="#131722" />
      </svg>
      <Label left={33} y={839} style={{ fontSize: 14, color: '#131722' }}>
        TradingView
      </Label>
    </div>
  )
}
